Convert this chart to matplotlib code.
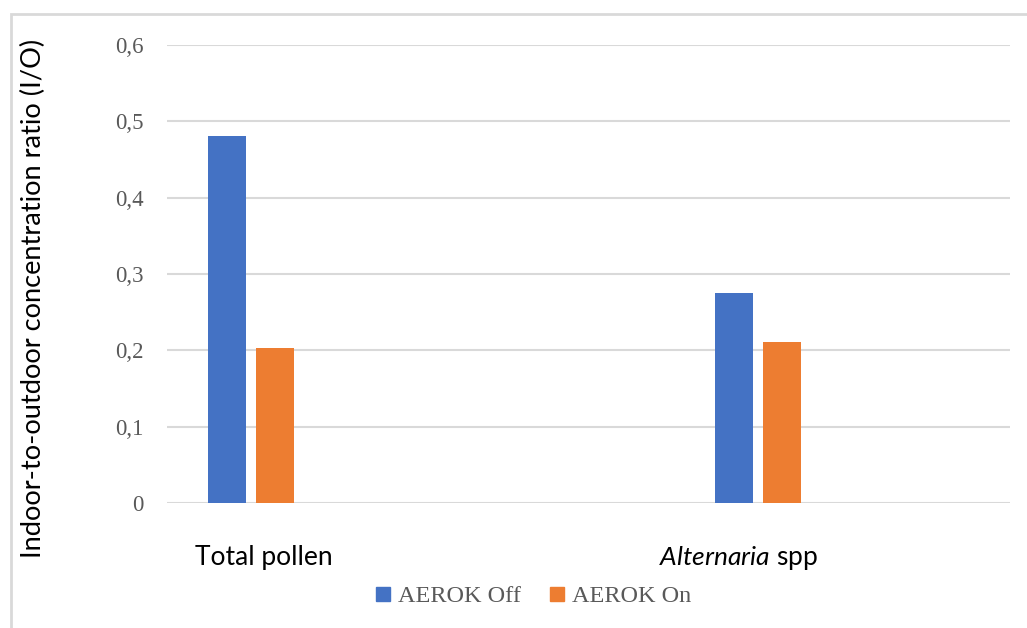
import matplotlib
matplotlib.use('Agg')
import matplotlib.pyplot as plt
from matplotlib.lines import Line2D
from matplotlib.patches import Rectangle

# values
categories = ['Total pollen', '$\\mathit{Alternaria}$ spp']
series_names = ['AEROK Off', 'AEROK On']
aerok_off = [0.481, 0.275]
aerok_on = [0.203, 0.211]
y_ticks = [0, 0.1, 0.2, 0.3, 0.4, 0.5, 0.6]
y_tick_labels = ['0', '0,1', '0,2', '0,3', '0,4', '0,5', '0,6']

BLUE = '#4472C4'
ORANGE = '#ED7D31'
GRID = '#D9D9D9'
TICK_GREY = '#595959'

plt.rcParams['mathtext.fontset'] = 'custom'
plt.rcParams['mathtext.rm'] = 'Lato'
plt.rcParams['mathtext.it'] = 'Lato:italic'

fig = plt.figure(figsize=(10.27, 6.28), dpi=100)
ax = fig.add_axes([167 / 1027, 1 - 503 / 628, (1010 - 167) / 1027, (503 - 45) / 628])

width = 0.075
offset = 0.0473
xs = list(range(len(categories)))
ax.bar([x - offset for x in xs], aerok_off, width, color=BLUE, zorder=3)
ax.bar([x + offset for x in xs], aerok_on, width, color=ORANGE, zorder=3)

ax.set_xlim(-0.1657, 1.497)
ax.set_ylim(0, 0.6)
ax.set_yticks(y_ticks)
ax.set_yticklabels(y_tick_labels, family='Liberation Serif', fontsize=16.5, color=TICK_GREY)
ax.tick_params(axis='y', length=0, pad=17)
ax.set_xticks([])
ax.grid(True, axis='y', color=GRID, linewidth=1.5, zorder=0)
for s in ax.spines.values():
    s.set_visible(False)

# category labels sit a little off the bar groups, as in the original
label_shift = [0.026, -0.038]
for x, lab, dx in zip(xs, categories, label_shift):
    ax.text(x + dx, -0.072, lab, ha='center', va='center', fontsize=19,
            family='Lato', color='black')

fig.text(33 / 1027, 1 - 298 / 628, 'Indoor-to-outdoor concentration ratio (I/O)',
         rotation=90, ha='center', va='center', fontsize=19.6, family='Lato', color='black')

handles = [Line2D([], [], marker='s', linestyle='none', markersize=10, color=c)
           for c in (BLUE, ORANGE)]
leg = fig.legend(handles, series_names, loc='center', bbox_to_anchor=(532 / 1027, 1 - 596 / 628),
                 ncol=2, frameon=False, handletextpad=0.2, columnspacing=1.1,
                 handlelength=0.8, prop={'family': 'Liberation Serif', 'size': 17.5})
for t in leg.get_texts():
    t.set_color(TICK_GREY)

# light frame round the chart, cut off at the right and bottom
fig.patches.append(Rectangle((11 / 1027, -0.1), 1.1, 1 - 14 / 628 + 0.1, transform=fig.transFigure,
                             fill=False, edgecolor=GRID, linewidth=2))

fig.savefig('out.png', dpi=100)
